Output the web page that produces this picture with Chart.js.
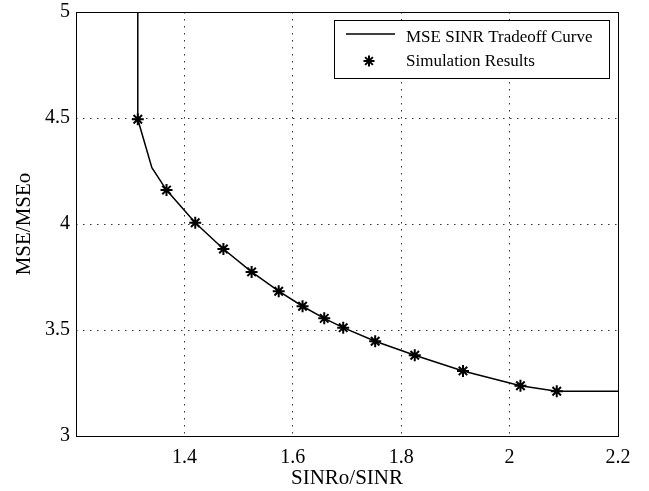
<!DOCTYPE html>
<html>
<head>
<meta charset="utf-8">
<script src="https://cdn.jsdelivr.net/npm/chart.js@4/dist/chart.umd.min.js"></script>
<style>
  html, body { margin: 0; padding: 0; background: #fff; }
  #wrap { width: 649px; height: 491px; position: relative; }
</style>
</head>
<body>
<div id="wrap"><canvas id="chart"></canvas></div>
<script>
// tradeoff curve (solid line)
const curveX = [1.314, 1.314, 1.340, 1.367, 1.420, 1.472, 1.524, 1.574, 1.618, 1.658, 1.693, 1.752, 1.825, 1.914, 2.020, 2.087, 2.2];
const curveY = [5.0, 4.494, 4.266, 4.160, 4.006, 3.882, 3.774, 3.683, 3.612, 3.555, 3.511, 3.447, 3.381, 3.307, 3.237, 3.211, 3.211];

// simulation results (stars)
const simX = [1.314, 1.367, 1.420, 1.472, 1.524, 1.574, 1.618, 1.658, 1.693, 1.752, 1.825, 1.914, 2.020, 2.087];
const simY = [4.494, 4.160, 4.006, 3.882, 3.774, 3.683, 3.612, 3.555, 3.511, 3.447, 3.381, 3.307, 3.237, 3.211];

const xTicks = [1.2, 1.4, 1.6, 1.8, 2, 2.2];
const xTickLabels = ['', '1.4', '1.6', '1.8', '2', '2.2'];
const yTicks = [3, 3.5, 4, 4.5, 5];
const yTickLabels = ['3', '3.5', '4', '4.5', '5'];

const serif = '"Liberation Serif", "Times New Roman", serif';

// box around plot + matlab style legend
const boxLegend = {
  id: 'boxLegend',
  afterDraw(chart) {
    const ctx = chart.ctx;
    const a = chart.chartArea;
    ctx.save();
    ctx.strokeStyle = '#000';
    ctx.lineWidth = 1;
    ctx.setLineDash([]);
    ctx.strokeRect(Math.round(a.left) + 0.5, Math.round(a.top) + 0.5,
      Math.round(a.right - a.left), Math.round(a.bottom - a.top));

    // legend
    const lx = 334.5, ly = 20.5, lw = 275, lh = 58;
    ctx.fillStyle = '#fff';
    ctx.fillRect(lx, ly, lw, lh);
    ctx.strokeRect(lx, ly, lw, lh);
    const ds = chart.data.datasets;
    ctx.fillStyle = '#000';
    ctx.font = '17px ' + serif;
    ctx.textBaseline = 'middle';
    ctx.textAlign = 'left';
    // row 1: line
    ctx.lineWidth = 1.5;
    ctx.beginPath();
    ctx.moveTo(346, 34);
    ctx.lineTo(395, 34);
    ctx.stroke();
    ctx.fillText(ds[0].label, 406, 38);
    // row 2: star marker
    const r = 5.5;
    const sx = 369, sy = 61;
    ctx.lineWidth = 2;
    ctx.beginPath();
    ctx.moveTo(sx - r, sy); ctx.lineTo(sx + r, sy);
    ctx.moveTo(sx, sy - r); ctx.lineTo(sx, sy + r);
    const d = r * 0.7071;
    ctx.moveTo(sx - d, sy - d); ctx.lineTo(sx + d, sy + d);
    ctx.moveTo(sx - d, sy + d); ctx.lineTo(sx + d, sy - d);
    ctx.stroke();
    ctx.fillText(ds[1].label, 406, 62);
    ctx.restore();
  }
};

new Chart(document.getElementById('chart'), {
  type: 'scatter',
  data: {
    datasets: [
      {
        label: 'MSE SINR Tradeoff Curve',
        data: curveX.map((x, i) => ({ x: x, y: curveY[i] })),
        showLine: true,
        borderColor: '#000',
        borderWidth: 1.5,
        pointRadius: 0,
        tension: 0,
        order: 2
      },
      {
        label: 'Simulation Results',
        data: simX.map((x, i) => ({ x: x, y: simY[i] })),
        showLine: false,
        pointStyle: 'star',
        pointRadius: 6,
        pointBorderWidth: 2,
        borderColor: '#000',
        backgroundColor: '#000',
        order: 1
      }
    ]
  },
  plugins: [boxLegend],
  options: {
    responsive: true,
    maintainAspectRatio: false,
    animation: false,
    layout: { padding: { top: 12, right: 31, left: 0, bottom: 0 } },
    plugins: {
      legend: { display: false },
      tooltip: { enabled: false }
    },
    scales: {
      x: {
        type: 'linear',
        min: 1.2,
        max: 2.2,
        afterBuildTicks: s => { s.ticks = xTicks.map(v => ({ value: v })); },
        afterFit: s => { s.height = 55; },
        ticks: {
          color: '#000',
          padding: 10,
          maxRotation: 0,
          font: { family: serif, size: 20 },
          callback: (v, i) => xTickLabels[i]
        },
        grid: {
          color: '#333',
          lineWidth: 1,
          drawTicks: false
        },
        border: { display: false, dash: [1.5, 5.5] },
        title: {
          display: true,
          text: 'SINRo/SINR',
          color: '#000',
          font: { family: serif, size: 21 },
          padding: { top: 0, bottom: 0 }
        }
      },
      y: {
        type: 'linear',
        min: 3,
        max: 5,
        afterBuildTicks: s => { s.ticks = yTicks.map(v => ({ value: v })); },
        afterFit: s => { s.width = 76; s.paddingTop = 0; s.paddingBottom = 0; },
        ticks: {
          color: '#000',
          padding: 6,
          font: { family: serif, size: 20 },
          callback: (v, i) => yTickLabels[i]
        },
        grid: {
          color: '#333',
          lineWidth: 1,
          drawTicks: false
        },
        border: { display: false, dash: [1.5, 5.5] },
        title: {
          display: true,
          text: 'MSE/MSEo',
          color: '#000',
          font: { family: serif, size: 21 },
          padding: { top: 12, bottom: 4 }
        }
      }
    }
  }
});
</script>
</body>
</html>
